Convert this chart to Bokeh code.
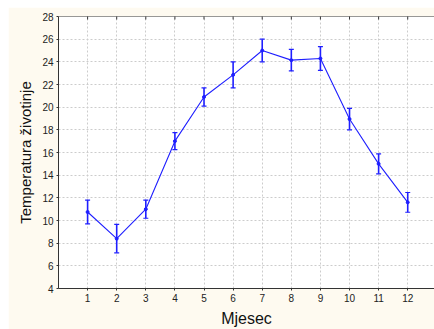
import math
from bokeh.plotting import figure
from bokeh.models import ColumnDataSource, Whisker, FixedTicker, Range1d, TeeHead, Span
from bokeh.embed import file_html
from bokeh.resources import INLINE

months = [1, 2, 3, 4, 5, 6, 7, 8, 9, 10, 11, 12]
mean_temp = [10.75, 8.4, 11.0, 17.0, 20.9, 22.85, 25.0, 24.15, 24.3, 18.95, 15.0, 11.6]
err = [1.05, 1.25, 0.8, 0.75, 0.8, 1.15, 1.0, 0.95, 1.05, 0.95, 0.88, 0.87]
x_ticks = months
y_ticks = [4, 6, 8, 10, 12, 14, 16, 18, 20, 22, 24, 26, 28]

src = ColumnDataSource(dict(
    x=months, y=mean_temp,
    upper=[m + e for m, e in zip(mean_temp, err)],
    lower=[m - e for m, e in zip(mean_temp, err)],
))

CREAM = "#fefaf0"
FONT = "Liberation Sans"
BLUE = "#1f1fff"
AXIS = "#333333"

p = figure(width=426, height=322, output_backend="svg", toolbar_location=None,
           x_range=Range1d(0, 12.92), y_range=Range1d(y_ticks[0], y_ticks[-1]),
           min_border_left=50, min_border_top=9, min_border_bottom=41, min_border_right=0)
p.margin = (7, 0, 0, 8)
p.border_fill_color = CREAM
p.background_fill_color = "white"
p.outline_line_color = None

p.xgrid.ticker = FixedTicker(ticks=x_ticks)
p.ygrid.ticker = FixedTicker(ticks=y_ticks)
for g in (p.xgrid[0], p.ygrid[0]):
    g.grid_line_color = "#cccccc"
    g.grid_line_dash = "2 2"
    g.grid_line_width = 1

# top frame line with inward tick marks
p.add_layout(Span(location=y_ticks[-1], dimension="width", line_color=AXIS, line_width=1))
p.scatter(x=x_ticks, y=[y_ticks[-1]] * len(x_ticks), marker="dash", angle=math.pi / 2,
          size=6, line_color=AXIS, line_width=1)

p.line("x", "y", source=src, line_color=BLUE, line_width=1.1)
p.scatter("x", "y", source=src, size=3, color=BLUE)
w = Whisker(base="x", upper="upper", lower="lower", source=src,
            line_color=BLUE, line_width=1.6,
            upper_head=TeeHead(size=5, line_color=BLUE, line_width=1.2),
            lower_head=TeeHead(size=5, line_color=BLUE, line_width=1.2))
p.add_layout(w)

for ax in (p.xaxis[0], p.yaxis[0]):
    ax.axis_line_color = AXIS
    ax.major_tick_line_color = AXIS
    ax.major_tick_in = 0
    ax.major_tick_out = 2
    ax.minor_tick_line_color = None
    ax.major_label_text_font = FONT
    ax.major_label_text_font_size = "10px"
    ax.major_label_text_color = "#222222"
    ax.major_label_standoff = 3
    ax.axis_label_text_font = FONT
    ax.axis_label_text_font_size = "16px"
    ax.axis_label_text_font_style = "normal"
    ax.axis_label_text_color = "#111111"

p.xaxis[0].ticker = FixedTicker(ticks=x_ticks)
p.yaxis[0].ticker = FixedTicker(ticks=y_ticks)
p.xaxis[0].axis_label = "Mjesec"
p.yaxis[0].axis_label = "Temperatura životinje"
p.yaxis[0].axis_label_text_font_size = "15px"
p.xaxis[0].axis_label_standoff = 5
p.yaxis[0].axis_label_standoff = 5

open("out.html", "w").write(file_html(p, INLINE))
